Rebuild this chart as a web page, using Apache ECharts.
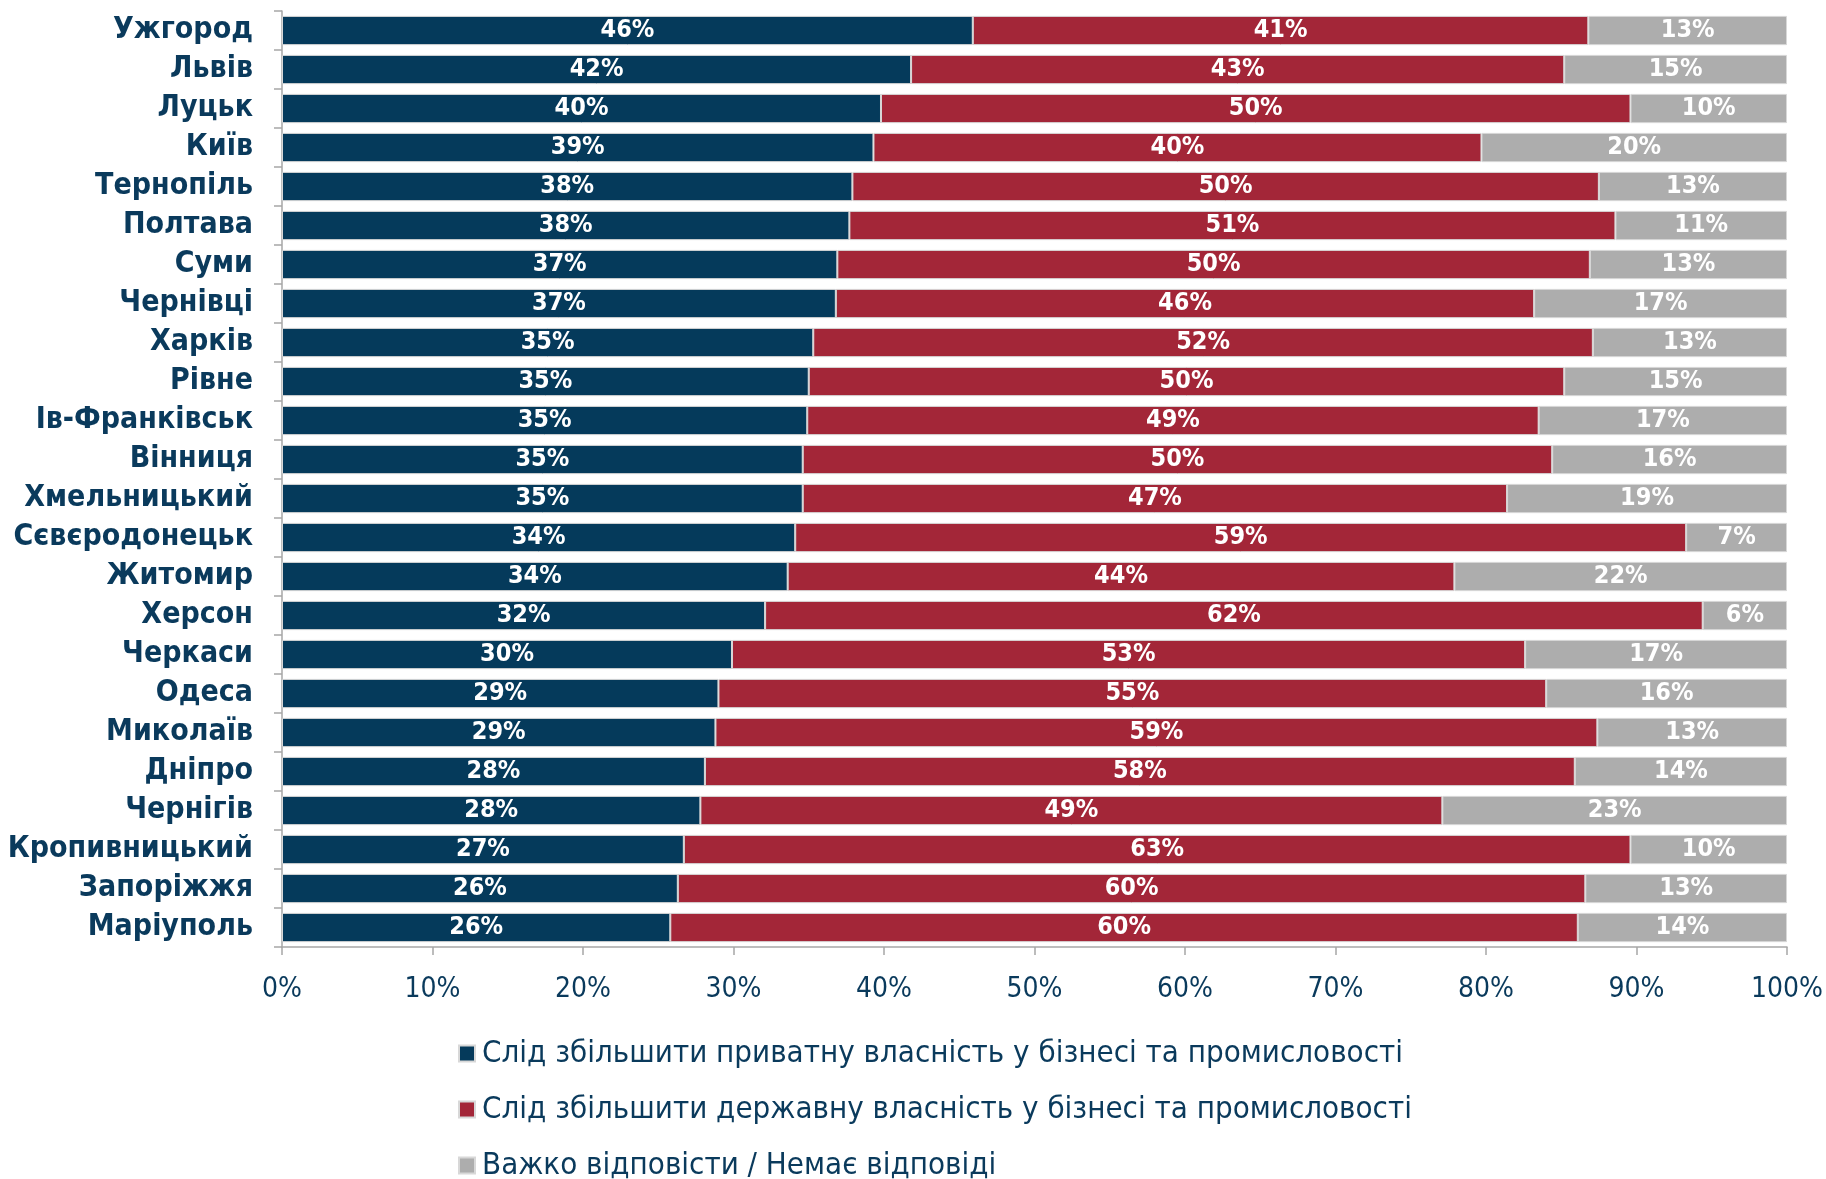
<!DOCTYPE html>
<html><head><meta charset="utf-8">
<script src="https://cdn.jsdelivr.net/npm/echarts@6/dist/echarts.min.js"></script>
<style>html,body{margin:0;padding:0;background:#fff}#c{width:1826px;height:1179px}</style>
</head><body><div id="c"></div>
<script>
const cities = ['Ужгород','Львів','Луцьк','Київ','Тернопіль','Полтава','Суми','Чернівці','Харків','Рівне','Ів-Франківськ','Вінниця','Хмельницький','Сєвєродонецьк','Житомир','Херсон','Черкаси','Одеса','Миколаїв','Дніпро','Чернігів','Кропивницький','Запоріжжя','Маріуполь'];
const privateOwn = [45.9,41.8,39.8,39.3,37.9,37.7,36.9,36.8,35.3,35.0,34.9,34.6,34.6,34.1,33.6,32.1,29.9,29.0,28.8,28.1,27.8,26.7,26.3,25.8];
const stateOwn   = [40.9,43.4,49.8,40.4,49.6,50.9,50.0,46.4,51.8,50.2,48.6,49.8,46.8,59.2,44.3,62.3,52.7,55.0,58.6,57.8,49.3,62.9,60.3,60.3];
const noAnswer   = [13.2,14.8,10.4,20.3,12.5,11.4,13.1,16.8,12.9,14.8,16.5,15.6,18.6,6.7,22.1,5.6,17.4,16.0,12.6,14.1,22.9,10.4,13.4,13.9];
const seriesNames = ['Слід збільшити приватну власність у бізнесі та промисловості','Слід збільшити державну власність у бізнесі та промисловості','Важко відповісти / Немає відповіді'];
const colors = ['#053A5B','#A32638','#ADADAD'];
const FONT = '"DejaVu Sans Condensed","Liberation Sans Narrow","DejaVu Sans",sans-serif';
const NAVY = '#0A3A5C';

const chart = echarts.init(document.getElementById('c'), null, {renderer:'canvas'});
function mk(name, data, color){
  return {
    name, type:'bar', stack:'s', data, barCategoryGap:'25%',
    itemStyle:{color, borderColor:'#d8d8d8', borderWidth:1},
    label:{show:true, position:'inside', color:'#fff', fontFamily:FONT, fontWeight:'bold', fontSize:25,
      padding:[5,0,0,0], formatter:p=>Math.round(p.value)+'%'}
  };
}
const legendTops = [1038, 1094, 1150];
chart.setOption({
  animation:false,
  color:colors,
  grid:{left:282, right:39, top:11, bottom:232, containLabel:false},
  legend: seriesNames.map((n,i)=>({
    orient:'vertical', left:458, top:legendTops[i], padding:0, icon:'rect', itemWidth:16, itemHeight:16,
    textStyle:{color:NAVY, fontFamily:FONT, fontSize:31, lineHeight:28, padding:[0,0,0,2]},
    data:[n]})),
  xAxis:{type:'value', min:0, max:100, interval:10,
    axisLine:{show:true, lineStyle:{color:'#A6A6A6', width:1.5}},
    axisTick:{show:true, length:8, lineStyle:{color:'#A6A6A6', width:1.5}},
    splitLine:{show:false},
    axisLabel:{formatter:'{value}%', color:NAVY, fontFamily:FONT, fontSize:28, margin:29}},
  yAxis:{type:'category', data:cities, inverse:true,
    axisLine:{show:true, lineStyle:{color:'#A6A6A6', width:1.5}},
    axisTick:{show:true, length:8, lineStyle:{color:'#A6A6A6', width:1.5}},
    axisLabel:{interval:0, color:NAVY, fontFamily:FONT, fontWeight:'bold', fontSize:30, margin:29, padding:[7,0,0,0]}},
  series:[mk(seriesNames[0], privateOwn, colors[0]), mk(seriesNames[1], stateOwn, colors[1]), mk(seriesNames[2], noAnswer, colors[2])]
});
</script></body></html>
